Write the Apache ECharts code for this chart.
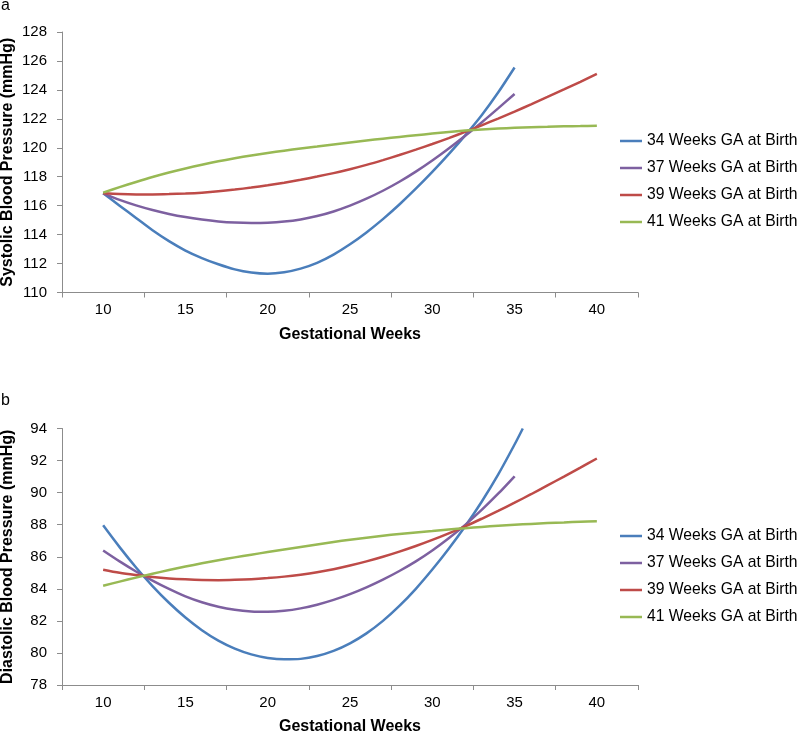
<!DOCTYPE html>
<html>
<head>
<meta charset="utf-8">
<script src="https://cdn.jsdelivr.net/npm/echarts@6/dist/echarts.min.js"></script>
<style>
  html, body { margin: 0; padding: 0; background: #fff; }
  #chart { width: 800px; height: 733px; }
</style>
</head>
<body>
<div id="chart"></div>
<script>
// ---- Data ----
const seriesNames = ['34 Weeks GA at Birth', '37 Weeks GA at Birth', '39 Weeks GA at Birth', '41 Weeks GA at Birth'];
const xTickLabels = [10, 15, 20, 25, 30, 35, 40];
const xTickMarks = [7.5, 12.5, 17.5, 22.5, 27.5, 32.5, 37.5, 42.5];

const weeksTo35 = [10, 11, 12, 13, 14, 15, 16, 17, 18, 19, 20, 21, 22, 23, 24, 25, 26, 27, 28, 29, 30, 31, 32, 33, 34, 35];
const weeksTo40 = [10, 11, 12, 13, 14, 15, 16, 17, 18, 19, 20, 21, 22, 23, 24, 25, 26, 27, 28, 29, 30, 31, 32, 33, 34, 35, 36, 37, 38, 39, 40];
const weeksDbp34 = [10, 11, 12, 13, 14, 15, 16, 17, 18, 19, 20, 21, 22, 23, 24, 25, 26, 27, 28, 29, 30, 31, 32, 33, 34, 35, 35.5];

// (a) Systolic blood pressure (mmHg)
const sbp34 = [116.85, 116.0, 115.15, 114.3, 113.55, 112.9, 112.38, 111.95, 111.6, 111.38, 111.3, 111.4, 111.65, 112.05, 112.62, 113.33, 114.15, 115.07, 116.08, 117.17, 118.33, 119.56, 120.86, 122.25, 123.82, 125.55];
const sbp37 = [116.85, 116.4, 116.02, 115.7, 115.43, 115.21, 115.04, 114.91, 114.83, 114.8, 114.82, 114.9, 115.05, 115.28, 115.6, 116.0, 116.48, 117.03, 117.65, 118.35, 119.12, 119.95, 120.83, 121.75, 122.72, 123.72];
const sbp39 = [116.85, 116.8, 116.78, 116.78, 116.8, 116.84, 116.9, 116.99, 117.11, 117.25, 117.41, 117.59, 117.79, 118.01, 118.25, 118.52, 118.82, 119.15, 119.5, 119.87, 120.26, 120.67, 121.1, 121.55, 122.02, 122.5, 123.0, 123.51, 124.03, 124.56, 125.1];
const sbp41 = [116.9, 117.28, 117.64, 117.98, 118.29, 118.57, 118.83, 119.07, 119.28, 119.47, 119.64, 119.8, 119.95, 120.09, 120.23, 120.37, 120.5, 120.63, 120.75, 120.87, 120.98, 121.09, 121.19, 121.27, 121.33, 121.38, 121.42, 121.45, 121.48, 121.5, 121.52];

// (b) Diastolic blood pressure (mmHg)
const dbp34 = [87.96, 86.6, 85.33, 84.17, 83.13, 82.21, 81.42, 80.77, 80.27, 79.91, 79.69, 79.6, 79.63, 79.81, 80.13, 80.6, 81.22, 82.0, 82.93, 84.0, 85.2, 86.5, 87.9, 89.43, 91.12, 93.0, 94.0];
const dbp37 = [86.39, 85.71, 85.08, 84.51, 83.99, 83.53, 83.16, 82.88, 82.69, 82.59, 82.57, 82.63, 82.78, 83.01, 83.31, 83.67, 84.09, 84.57, 85.11, 85.71, 86.39, 87.15, 87.99, 88.92, 89.93, 91.02];
const dbp39 = [85.19, 85.0, 84.86, 84.74, 84.65, 84.59, 84.55, 84.54, 84.56, 84.6, 84.67, 84.76, 84.88, 85.03, 85.22, 85.45, 85.71, 86.0, 86.32, 86.67, 87.05, 87.46, 87.9, 88.37, 88.86, 89.37, 89.9, 90.45, 91.0, 91.56, 92.13];
const dbp41 = [84.19, 84.45, 84.7, 84.94, 85.17, 85.39, 85.59, 85.78, 85.96, 86.13, 86.29, 86.45, 86.61, 86.77, 86.92, 87.06, 87.19, 87.31, 87.42, 87.52, 87.61, 87.7, 87.78, 87.86, 87.93, 87.99, 88.05, 88.1, 88.14, 88.18, 88.21];

// ---- Styling ----
const colors = ['#4A7EBB', '#7D60A0', '#BE4B48', '#98B954'];
const FONT = '"Liberation Sans", Arial, sans-serif';
const axisGray = '#8c8c8c';

function pairs(xs, ys) { return ys.map((y, i) => [xs[i], y]); }

function xAxisCfg(gridIndex) {
  return {
    type: 'value', gridIndex: gridIndex, min: 7.5, max: 42.5,
    name: 'Gestational Weeks', nameLocation: 'middle', nameGap: 34, nameMoveOverlap: false,
    nameTextStyle: { fontFamily: FONT, fontSize: 16, fontWeight: 'bold', color: '#000' },
    axisLine: { show: true, onZero: false, lineStyle: { color: axisGray, width: 1 } },
    axisTick: { show: true, length: 5, customValues: xTickMarks, lineStyle: { color: axisGray } },
    axisLabel: { customValues: xTickLabels, margin: 10, fontFamily: FONT, fontSize: 15, color: '#000' },
    splitLine: { show: false }
  };
}
function yAxisCfg(gridIndex, min, max, name) {
  return {
    type: 'value', gridIndex: gridIndex, min: min, max: max, interval: 2,
    name: name, nameLocation: 'middle', nameGap: 46, nameMoveOverlap: false,
    nameTextStyle: { fontFamily: FONT, fontSize: 16, fontWeight: 'bold', color: '#000' },
    axisLine: { show: true, lineStyle: { color: axisGray, width: 1 } },
    axisTick: { show: true, length: 5, lineStyle: { color: axisGray } },
    axisLabel: { margin: 15, fontFamily: FONT, fontSize: 15, color: '#000' },
    splitLine: { show: false }
  };
}
function lineSeries(name, idx, xAxisIndex, data) {
  return {
    type: 'line', name: name, xAxisIndex: xAxisIndex, yAxisIndex: xAxisIndex,
    data: data, smooth: 0.3, symbol: 'none', clip: true,
    lineStyle: { color: colors[idx], width: 2.5 },
    itemStyle: { color: colors[idx] }
  };
}
function legendCfg(top) {
  return {
    orient: 'vertical', left: 620, top: top, data: seriesNames,
    icon: 'rect', itemWidth: 22, itemHeight: 2.5, itemGap: 11, padding: 0,
    textStyle: { fontFamily: FONT, fontSize: 15.7, lineHeight: 16, color: '#000' },
    selectedMode: false
  };
}

const chart = echarts.init(document.getElementById('chart'), null, { renderer: 'canvas' });
chart.setOption({
  animation: false,
  backgroundColor: '#fff',
  title: [
    { text: 'a', left: 1, top: -2, padding: 0, textStyle: { fontFamily: FONT, fontSize: 16, fontWeight: 'normal', color: '#000' } },
    { text: 'b', left: 1, top: 393, padding: 0, textStyle: { fontFamily: FONT, fontSize: 16, fontWeight: 'normal', color: '#000' } }
  ],
  grid: [
    { left: 62, top: 32, width: 576, height: 260.5, containLabel: false, outerBoundsMode: 'none' },
    { left: 62, top: 428.5, width: 576, height: 256.5, containLabel: false, outerBoundsMode: 'none' }
  ],
  legend: [legendCfg(133), legendCfg(528)],
  xAxis: [xAxisCfg(0), xAxisCfg(1)],
  yAxis: [
    yAxisCfg(0, 110, 128, 'Systolic Blood Pressure (mmHg)'),
    yAxisCfg(1, 78, 94, 'Diastolic Blood Pressure (mmHg)')
  ],
  series: [
    lineSeries(seriesNames[0], 0, 0, pairs(weeksTo35, sbp34)),
    lineSeries(seriesNames[1], 1, 0, pairs(weeksTo35, sbp37)),
    lineSeries(seriesNames[2], 2, 0, pairs(weeksTo40, sbp39)),
    lineSeries(seriesNames[3], 3, 0, pairs(weeksTo40, sbp41)),
    lineSeries(seriesNames[0], 0, 1, pairs(weeksDbp34, dbp34)),
    lineSeries(seriesNames[1], 1, 1, pairs(weeksTo35, dbp37)),
    lineSeries(seriesNames[2], 2, 1, pairs(weeksTo40, dbp39)),
    lineSeries(seriesNames[3], 3, 1, pairs(weeksTo40, dbp41))
  ]
});
</script>
</body>
</html>
